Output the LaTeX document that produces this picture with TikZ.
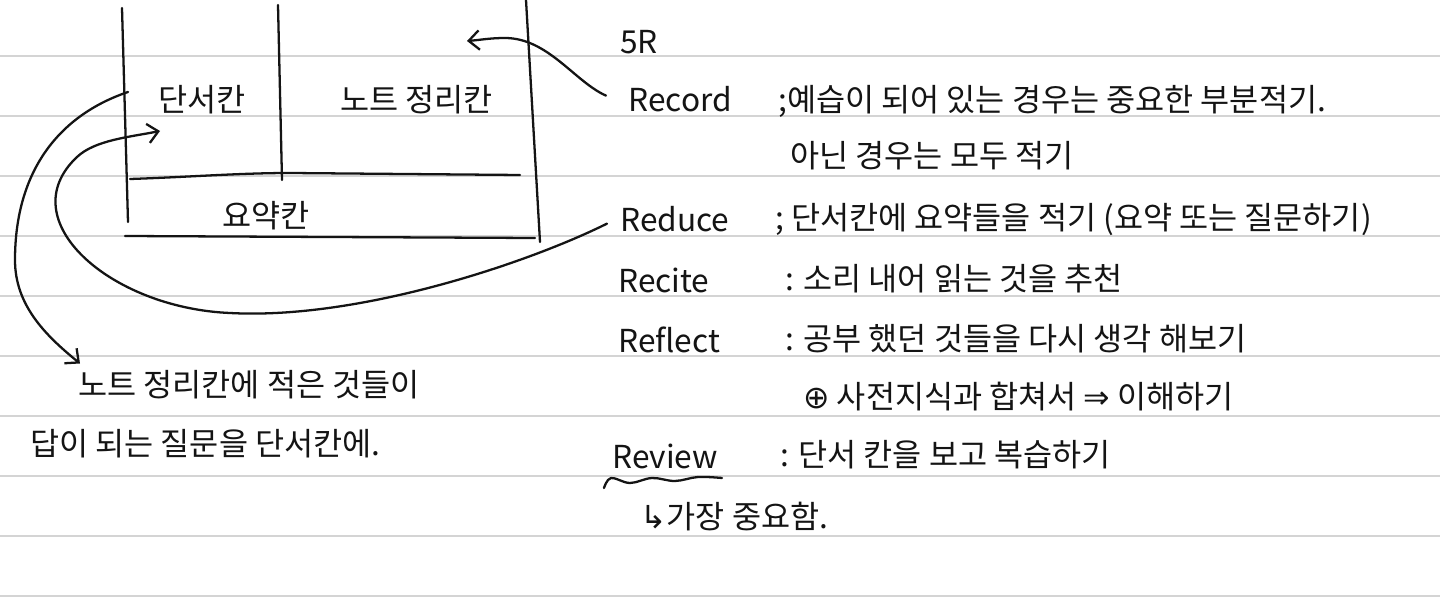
\documentclass[tikz,border=0pt]{standalone}
\usepackage{fontspec}
\setmainfont{Noto Sans CJK KR}
\newfontfamily\symfont{DejaVu Sans}
\usetikzlibrary{calc,arrows.meta}
\definecolor{ink}{RGB}{20,20,20}
\definecolor{rulegray}{RGB}{212,212,212}

\tikzset{
  pen/.style={draw=ink, line width=1.3pt, line cap=round, line join=round},
  hand/.style={anchor=base west, inner sep=0pt, text=ink, font=\fontsize{18}{21}\selectfont},
  barb/.style={-{Straight Barb[length=6pt,width=11pt]}},
}

\begin{document}
\begin{tikzpicture}[x=0.02cm, y=-0.02cm]
  \useasboundingbox (0,0) rectangle (1440,601);
  \fill[white] (0,0) rectangle (1440,601);
  % ruled paper
  \foreach \ry in {56,116,...,596}
    \draw[rulegray, line width=1.2pt] (0,\ry) -- (1440,\ry);

  % cornell layout
  \draw[pen] (122,8) -- (128,222);
  \draw[pen] (278,5) -- (282,180);
  \draw[pen] (526,0) -- (540,242);
  \draw[pen] (130,179) .. controls (190,177) and (240,173) .. (290,173) -- (520,175);
  \draw[pen] (125,236) -- (535,238);
  \node[hand] (cue) at (158,112) {단서칸};
  \node[hand] (notes) at (340,112) {노트 정리칸};
  \node[hand] (summ) at (222,228) {요약칸};

  % 5R list
  \node[hand] (fiveR) at (620,54) {5R};
  \node[hand] (rec) at (628,112) {Record};
  \node[hand] (recD) at (778,112) {;예습이 되어 있는 경우는 중요한 부분적기.};
  \node[hand] (recD2) at (790,168) {아닌 경우는 모두 적기};
  \node[hand] (red) at (620,232) {Reduce};
  \node[hand] (redD) at (775,230) {; 단서칸에 요약들을 적기 (요약 또는 질문하기)};
  \node[hand] (rcc) at (618,293) {Recite};
  \node[hand] (rccD) at (785,291) {: 소리 내어 읽는 것을 추천};
  \node[hand] (rfl) at (618,352) {Reflect};
  \node[hand] (rflD) at (785,350) {: 공부 했던 것들을 다시 생각 해보기};
  \node[hand] (rflD2) at (803,408) {{\symfont ⊕} 사전지식과 합쳐서 {\symfont ⇒} 이해하기};
  \node[hand] (rev) at (612,468) {Review};
  \node[hand] (revD) at (780,466) {: 단서 칸을 보고 복습하기};
  \node[hand] (revN) at (640,528) {{\symfont ↳}가장 중요함.};
  \draw[pen] plot[smooth, tension=0.6] coordinates {(604,488) (611,478) (630,483) (652,478) (675,481) (698,477) (722,478)};

  % note under the box
  \node[hand] (tipA) at (78,396) {노트 정리칸에 적은 것들이};
  \node[hand] (tipB) at (30,455) {답이 되는 질문을 단서칸에.};

  % arrows
  \coordinate (recTip) at (467,41);
  \coordinate (cueTip) at (160,131);
  \coordinate (cueL) at (128,92);
  \draw[pen, barb] ($(rec.west)+(-22,-4)$) .. controls (575,82) and (548,38) .. (505,38)
    .. controls (490,38) and (480,40) .. (recTip);
  \draw[pen, barb] ($(red.west)+(-13,4)$) .. controls (530,262) and (360,320) .. (230,313)
    .. controls (110,308) and (10,220) .. (77,157) .. controls (95,140) and (130,137) .. (cueTip);
  \draw[pen, barb] (cueL) .. controls (60,115) and (15,170) .. (15,260)
    .. controls (15,305) and (45,335) .. ($(tipA.north west)+(2,-6)$);
\end{tikzpicture}
\end{document}
